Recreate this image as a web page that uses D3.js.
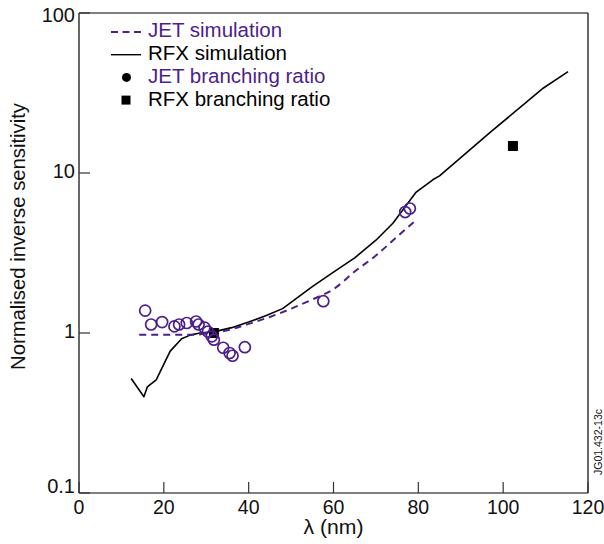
<!DOCTYPE html>
<html>
<head>
<meta charset="utf-8">
<script src="https://cdn.jsdelivr.net/npm/d3@7"></script>
<style>
  body { margin: 0; background: #fff; }
  svg { display: block; font-family: "Liberation Sans", Arial, sans-serif; }
</style>
</head>
<body>
<svg id="chart" width="604" height="544"></svg>
<script>
// RFX simulation (solid black line)
const rfxSimX = [12.3, 15.3, 16.1, 18.2, 21.5, 24.2, 26.2, 28.5, 32, 36, 40, 44, 48, 55, 60, 65, 70, 74, 79.5, 83.5, 85, 97, 109.5, 115.3];
const rfxSimY = [0.52, 0.40, 0.46, 0.51, 0.77, 0.92, 0.97, 1.0, 1.02, 1.08, 1.17, 1.28, 1.42, 1.95, 2.4, 2.95, 3.8, 4.85, 7.6, 9.1, 9.6, 18, 34, 43];

// JET simulation (dashed purple line)
const jetSimX = [14.2, 20, 27, 30, 35, 40, 45, 50, 55, 60, 65, 70, 75, 79];
const jetSimY = [0.975, 0.975, 0.976, 0.99, 1.04, 1.14, 1.26, 1.42, 1.62, 1.88, 2.42, 3.05, 4.0, 4.95];

// JET branching ratio (open purple circles)
const jetBrX = [15.6, 17.0, 19.6, 22.5, 23.6, 25.4, 27.6, 28.2, 29.6, 30.4, 31.3, 31.8, 34.0, 35.5, 36.2, 39.1, 57.6, 76.9, 78.0];
const jetBrY = [1.38, 1.13, 1.17, 1.10, 1.13, 1.155, 1.18, 1.13, 1.08, 1.02, 0.953, 0.908, 0.809, 0.75, 0.721, 0.815, 1.58, 5.7, 6.0];

// RFX branching ratio (filled black squares)
const rfxBrX = [31.8, 102.3];
const rfxBrY = [1.0, 14.75];

const xTicks = [0, 20, 40, 60, 80, 100, 120];
const yTicks = [0.1, 1, 10, 100];

const purple = "#4b1f8c";

const svg = d3.select("#chart");
const margin = { left: 79, right: 16, top: 13, bottom: 51 };
const width = 604, height = 544;

const x = d3.scaleLinear().domain([0, 120]).range([margin.left, width - margin.right]);
const y = d3.scaleLog().domain([0.1, 100]).range([height - margin.bottom, margin.top]);

const x0 = x.range()[0], x1 = x.range()[1];
const y0 = y.range()[0], y1 = y.range()[1];

// frame
svg.append("line").attr("x1", x0).attr("x2", x1).attr("y1", y1).attr("y2", y1)
  .attr("stroke", "#555").attr("stroke-width", 1.5);
svg.append("line").attr("x1", x0).attr("x2", x1).attr("y1", y0).attr("y2", y0)
  .attr("stroke", "#555").attr("stroke-width", 1.5);
svg.append("line").attr("x1", x0).attr("x2", x0).attr("y1", y1).attr("y2", y0)
  .attr("stroke", "#000").attr("stroke-width", 1.2);
svg.append("line").attr("x1", x1).attr("x2", x1).attr("y1", y1).attr("y2", y0)
  .attr("stroke", "#000").attr("stroke-width", 1.2);

// x ticks (inward)
svg.append("g").selectAll("line").data(xTicks).enter().append("line")
  .attr("x1", d => x(d)).attr("x2", d => x(d))
  .attr("y1", y0).attr("y2", y0 - 11)
  .attr("stroke", "#333").attr("stroke-width", 1.2);
svg.append("g").selectAll("text").data(xTicks).enter().append("text")
  .attr("x", d => x(d)).attr("y", y0 + 16)
  .attr("text-anchor", "middle").attr("dominant-baseline", "middle")
  .attr("font-size", 19.5).attr("fill", "#111")
  .text(d => d);

// y ticks (inward)
svg.append("g").selectAll("line").data(yTicks).enter().append("line")
  .attr("x1", x0).attr("x2", x0 + 11)
  .attr("y1", d => y(d)).attr("y2", d => y(d))
  .attr("stroke", "#333").attr("stroke-width", 1.2);
svg.append("g").selectAll("text").data(yTicks).enter().append("text")
  .attr("x", x0 - 4)
  .attr("y", d => y(d) + (d === 0.1 ? -5 : d === 100 ? 4 : 0))
  .attr("text-anchor", "end").attr("dominant-baseline", "middle")
  .attr("font-size", 20).attr("fill", "#111")
  .text(d => d);

// axis titles
svg.append("text")
  .attr("x", (x0 + x1) / 2).attr("y", 529)
  .attr("text-anchor", "middle").attr("dominant-baseline", "middle")
  .attr("font-size", 20).attr("fill", "#111")
  .attr("textLength", 60).attr("lengthAdjust", "spacingAndGlyphs")
  .text("λ (nm)");
svg.append("text")
  .attr("transform", `translate(20, 236.5) rotate(-90)`)
  .attr("text-anchor", "middle").attr("dominant-baseline", "middle")
  .attr("font-size", 20).attr("fill", "#111")
  .attr("textLength", 267).attr("lengthAdjust", "spacingAndGlyphs")
  .text("Normalised inverse sensitivity");
svg.append("text")
  .attr("transform", `translate(599, 442) rotate(-90)`)
  .attr("text-anchor", "middle").attr("dominant-baseline", "middle")
  .attr("font-size", 10.5).attr("fill", "#111")
  .text("JG01.432-13c");

const line = d3.line().x(d => x(d[0])).y(d => y(d[1]));

// RFX simulation
svg.append("path")
  .datum(d3.zip(rfxSimX, rfxSimY))
  .attr("d", line)
  .attr("fill", "none").attr("stroke", "#000").attr("stroke-width", 1.6)
  .attr("stroke-linejoin", "round");

// JET simulation
svg.append("path")
  .datum(d3.zip(jetSimX, jetSimY))
  .attr("d", line.curve(d3.curveMonotoneX))
  .attr("fill", "none").attr("stroke", purple).attr("stroke-width", 2)
  .attr("stroke-dasharray", "7,5");

// RFX branching ratio
svg.append("g").selectAll("rect").data(d3.zip(rfxBrX, rfxBrY)).enter().append("rect")
  .attr("x", d => x(d[0]) - 5).attr("y", d => y(d[1]) - 5)
  .attr("width", 10).attr("height", 10)
  .attr("fill", "#000");

// JET branching ratio
svg.append("g").selectAll("circle").data(d3.zip(jetBrX, jetBrY)).enter().append("circle")
  .attr("cx", d => x(d[0])).attr("cy", d => y(d[1]))
  .attr("r", 5.5)
  .attr("fill", "none").attr("stroke", purple).attr("stroke-width", 1.7);

// legend
const legend = svg.append("g").attr("font-size", 20.5);
const legendItems = [
  { label: "JET simulation", color: purple, kind: "dash" },
  { label: "RFX simulation", color: "#000", kind: "line" },
  { label: "JET branching ratio", color: purple, kind: "circle" },
  { label: "RFX branching ratio", color: "#000", kind: "square" }
];
legendItems.forEach((item, i) => {
  const ly = 32 + i * 22.7;
  if (item.kind === "dash") {
    legend.append("line").attr("x1", 111).attr("x2", 141).attr("y1", ly).attr("y2", ly)
      .attr("stroke", purple).attr("stroke-width", 2).attr("stroke-dasharray", "7,4.5");
  } else if (item.kind === "line") {
    legend.append("line").attr("x1", 111).attr("x2", 141).attr("y1", ly).attr("y2", ly)
      .attr("stroke", "#000").attr("stroke-width", 1.4);
  } else if (item.kind === "circle") {
    legend.append("circle").attr("cx", 126.5).attr("cy", ly).attr("r", 4.5).attr("fill", "#000");
  } else {
    legend.append("rect").attr("x", 121.5).attr("y", ly - 4.5).attr("width", 9).attr("height", 9).attr("fill", "#000");
  }
  legend.append("text")
    .attr("x", 148).attr("y", ly)
    .attr("dominant-baseline", "middle")
    .attr("fill", item.color)
    .text(item.label);
});
</script>
</body>
</html>
